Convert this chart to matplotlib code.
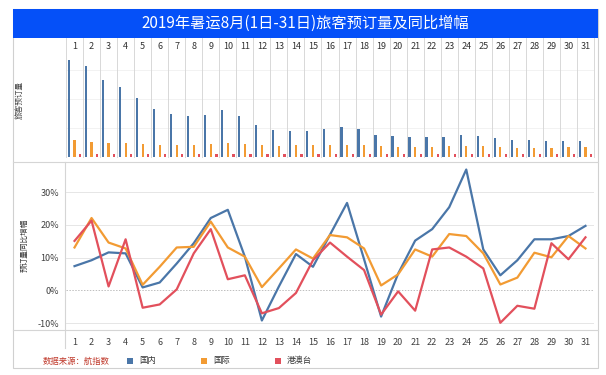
import matplotlib
matplotlib.use("Agg")
import matplotlib.pyplot as plt
from matplotlib.patches import Rectangle
from matplotlib.lines import Line2D

plt.rcParams['font.family'] = ['Noto Sans CJK SC', 'DejaVu Sans']

# ---------------- data ----------------
days = list(range(1, 32))
title = "2019年暑运8月(1日-31日)旅客预订量及同比增幅"
series_names = ["国内", "国际", "港澳台"]
source_text = "数据来源：航指数"

# booking volume (relative units)
vol_domestic = [292, 272, 230, 209, 178, 145, 130, 124, 126, 140, 124, 97, 82, 78, 78,
                84, 90, 84, 67, 64, 60, 60, 60, 67, 62, 56, 50, 50, 48, 48, 48]
vol_intl = [50, 45, 43, 41, 39, 37, 37, 37, 39, 41, 39, 35, 32, 35, 35,
            37, 37, 37, 33, 30, 30, 30, 33, 33, 33, 29, 27, 27, 27, 29, 29]
vol_hkmt = [8, 8, 8, 8, 8, 8, 8, 8, 8, 8, 8, 8, 8, 8, 8,
            8, 8, 8, 8, 8, 8, 8, 8, 8, 8, 8, 8, 8, 8, 8, 8]

# year-on-year growth (%)
yoy_domestic = [7.4, 9.2, 11.6, 11.3, 0.9, 2.4, 8.2, 14.4, 22.1, 24.6, 10.3, -9.2, 1.2, 11.1, 7.2,
                17.0, 26.7, 9.5, -8.0, 5.1, 15.2, 18.7, 25.4, 36.9, 12.5, 4.6, 9.2, 15.6, 15.6, 16.6, 19.7]
yoy_intl = [13.1, 22.1, 14.6, 12.8, 1.7, 7.2, 13.1, 13.3, 21.0, 13.1, 10.3, 1.0, 6.7, 12.5, 9.7,
            16.9, 16.2, 12.8, 1.5, 4.9, 12.5, 10.3, 17.2, 16.6, 11.3, 1.8, 3.9, 11.5, 10.1, 16.6, 12.8]
yoy_hkmt = [15.1, 21.3, 1.2, 15.6, -5.3, -4.3, 0.3, 11.3, 18.7, 3.4, 4.6, -7.0, -5.4, -0.8, 9.2,
            14.6, 10.3, 6.2, -7.4, -0.3, -6.2, 12.5, 13.1, 10.3, 6.7, -9.9, -4.7, -5.6, 14.4, 9.5, 16.2]

yticks = [-10, 0, 10, 20, 30]
ytick_labels = ["-10%", "0%", "10%", "20%", "30%"]

colors = ["#4A76A8", "#F29B33", "#E2505C"]

# ---------------- layout ----------------
W, H = 606, 375
fig = plt.figure(figsize=(W / 100, H / 100), dpi=100)
fig.patch.set_facecolor("white")


def rect(x0, y0, x1, y1):
    return [x0 / W, 1 - y1 / H, (x1 - x0) / W, (y1 - y0) / H]


def fx(x):
    return x / W


def fy(y):
    return 1 - y / H


# outer frame
fig.patches.append(Rectangle((fx(13), fy(368)), fx(598) - fx(13), fy(9) - fy(368),
                             transform=fig.transFigure, fill=False, ec="#D0D0D0", lw=0.8))
# title bar
fig.patches.append(Rectangle((fx(13), fy(38)), fx(598) - fx(13), fy(9) - fy(38),
                             transform=fig.transFigure, fc="#0550F8", ec="none"))
fig.text(fx(305), fy(23.5), title, color="white", fontsize=11, ha="center", va="center")

# horizontal separators
for yy in (161.5, 330):
    fig.lines.append(Line2D([fx(13), fx(598)], [fy(yy), fy(yy)], transform=fig.transFigure,
                            color="#D5D5D5", lw=0.8))
# vertical axis line for lower panel
fig.lines.append(Line2D([fx(64.5), fx(64.5)], [fy(161.5), fy(348)], transform=fig.transFigure,
                        color="#D5D5D5", lw=0.8))

X0, X1 = 66, 594

# header axes
axh = fig.add_axes(rect(X0, 38, X1, 55))
axh.set_xlim(0.5, 31.5)
axh.set_ylim(0, 1)
axh.axis("off")
for d in days:
    axh.text(d, 0.5, str(d), ha="center", va="center", fontsize=6.5, color="#333333")

# bar axes
axb = fig.add_axes(rect(X0, 55, X1, 157))
axb.set_xlim(0.5, 31.5)
axb.set_ylim(0, 306)
for s in axb.spines.values():
    s.set_visible(False)
axb.set_xticks([])
axb.set_yticks([])
for g in (87, 174, 262):
    axb.axhline(g, color="#F0F0F0", lw=0.6, zorder=0)
w = 0.13
xs = list(days)
axb.bar([x - 0.33 for x in xs], vol_domestic, width=w, color=colors[0], zorder=2)
axb.bar([x for x in xs], vol_intl, width=w, color=colors[1], zorder=2)
axb.bar([x + 0.33 for x in xs], vol_hkmt, width=w, color=colors[2], zorder=2)

# column grid lines across header and bars
for k in range(32):
    xk = X0 + k * (X1 - X0) / 31
    fig.lines.append(Line2D([fx(xk), fx(xk)], [fy(157), fy(38)], transform=fig.transFigure,
                            color="#D8D8D8", lw=0.7))

fig.text(fx(20), fy(100), "旅客预订量", rotation=90, ha="center", va="center",
         fontsize=5.5, color="#444444")

# lower line axes
axl = fig.add_axes(rect(X0, 162, X1, 330))
axl.set_xlim(0.5, 31.5)
axl.set_ylim(-12.1, 39.2)
for s in axl.spines.values():
    s.set_visible(False)
for t in yticks:
    if t == 0:
        axl.axhline(t, color="#BFBFBF", lw=0.7, ls=(0, (1.5, 1.5)), zorder=0)
    else:
        axl.axhline(t, color="#E6E6E6", lw=0.7, zorder=0)
axl.plot(days, yoy_domestic, color=colors[0], lw=1.6, zorder=3)
axl.plot(days, yoy_intl, color=colors[1], lw=1.6, zorder=3)
axl.plot(days, yoy_hkmt, color=colors[2], lw=1.6, zorder=3)
axl.set_yticks(yticks)
axl.set_yticklabels(ytick_labels, fontsize=6.5, color="#404040")
axl.set_xticks(days)
axl.set_xticklabels([str(d) for d in days], fontsize=6.5, color="#404040")
axl.tick_params(axis="y", length=0, pad=5)
axl.tick_params(axis="x", length=0, pad=6)

fig.text(fx(25), fy(245), "预订量同比增幅", rotation=90, ha="center", va="center",
         fontsize=5.5, color="#333333")

# legend
fig.text(fx(43), fy(361), source_text, color="#C0392B", fontsize=6, ha="left", va="center")
leg_x = [127, 201, 275]
for name, c, lx in zip(series_names, colors, leg_x):
    fig.patches.append(Rectangle((fx(lx), fy(364)), fx(6), 6 / H, transform=fig.transFigure,
                                 fc=c, ec="none"))
    fig.text(fx(lx + 12), fy(361), name, color="#333333", fontsize=6, ha="left", va="center")

fig.savefig("out.png", dpi=100, facecolor="white")
